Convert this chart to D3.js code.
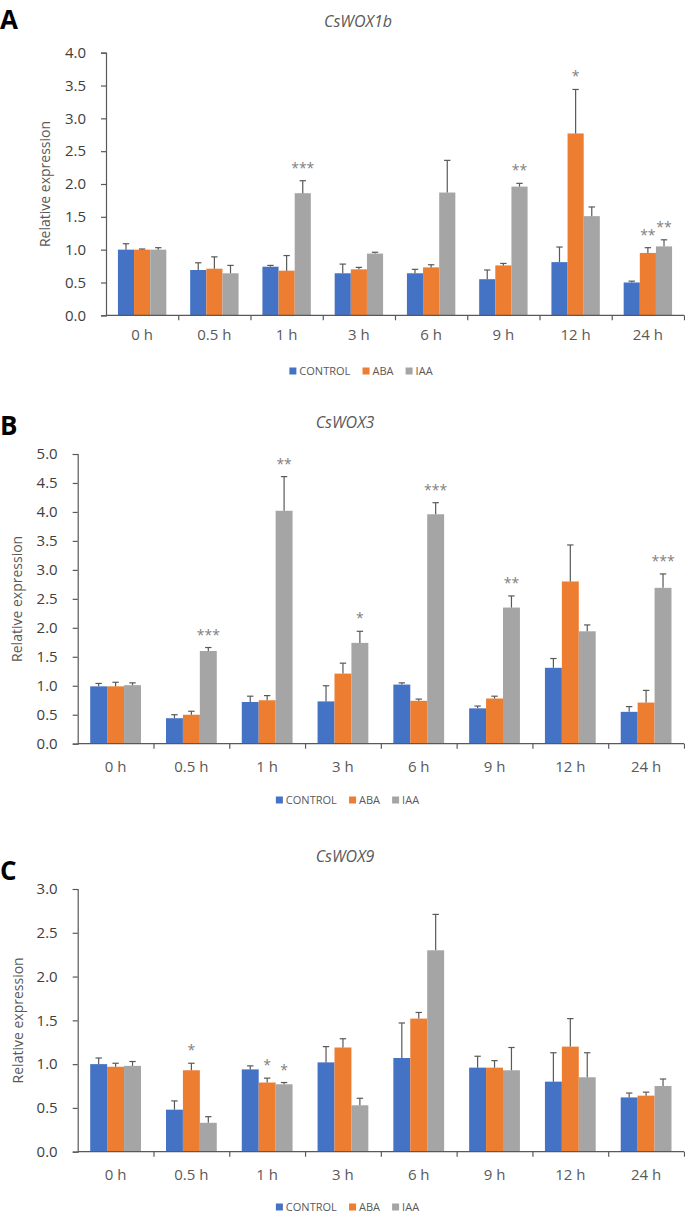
<!DOCTYPE html>
<html><head><meta charset="utf-8">
<script src="https://cdn.jsdelivr.net/npm/d3@7/dist/d3.min.js"></script>
<style>
body{margin:0;background:#fff;}
svg{display:block;font-family:"Open Sans",sans-serif;}
</style></head>
<body><svg id="c" width="685" height="1213"></svg>
<script>
const categories = ["0 h","0.5 h","1 h","3 h","6 h","9 h","12 h","24 h"];
const seriesNames = ["CONTROL","ABA","IAA"];
const seriesColors = ["#4472C4","#ED7D31","#A5A5A5"];

// CsWOX1b
const wox1bControl = [1.00,0.69,0.74,0.64,0.64,0.55,0.81,0.50];
const wox1bControlErr = [0.09,0.11,0.02,0.14,0.06,0.14,0.23,0.02];
const wox1bABA = [1.00,0.71,0.68,0.70,0.73,0.76,2.77,0.95];
const wox1bABAErr = [0.01,0.18,0.23,0.03,0.04,0.03,0.67,0.08];
const wox1bIAA = [1.00,0.64,1.86,0.94,1.87,1.96,1.51,1.05];
const wox1bIAAErr = [0.03,0.12,0.19,0.02,0.49,0.05,0.14,0.10];
const wox1bSig = [[2,2,"***"],[5,2,"**"],[6,1,"*"],[7,1,"**"],[7,2,"**"]];
const wox1bTicks = [0,0.5,1,1.5,2,2.5,3,3.5,4];

// CsWOX3
const wox3Control = [0.99,0.44,0.72,0.73,1.02,0.61,1.31,0.55];
const wox3ControlErr = [0.05,0.06,0.10,0.27,0.03,0.04,0.16,0.09];
const wox3ABA = [0.99,0.50,0.75,1.21,0.74,0.78,2.80,0.71];
const wox3ABAErr = [0.07,0.06,0.08,0.18,0.03,0.04,0.63,0.21];
const wox3IAA = [1.01,1.60,4.02,1.74,3.96,2.35,1.94,2.69];
const wox3IAAErr = [0.04,0.06,0.59,0.20,0.20,0.20,0.11,0.24];
const wox3Sig = [[1,2,"***"],[2,2,"**"],[3,2,"*"],[4,2,"***"],[5,2,"**"],[7,2,"***"]];
const wox3Ticks = [0,0.5,1,1.5,2,2.5,3,3.5,4,4.5,5];

// CsWOX9
const wox9Control = [1.00,0.48,0.94,1.02,1.07,0.96,0.80,0.62];
const wox9ControlErr = [0.07,0.10,0.04,0.18,0.40,0.13,0.33,0.05];
const wox9ABA = [0.97,0.93,0.79,1.19,1.52,0.96,1.20,0.64];
const wox9ABAErr = [0.04,0.08,0.05,0.10,0.07,0.08,0.32,0.04];
const wox9IAA = [0.98,0.33,0.77,0.53,2.30,0.93,0.85,0.75];
const wox9IAAErr = [0.05,0.07,0.02,0.08,0.41,0.26,0.28,0.08];
const wox9Sig = [[1,1,"*"],[2,1,"*"],[2,2,"*"]];
const wox9Ticks = [0,0.5,1,1.5,2,2.5,3];

const panels = [
  {letter:"A", gene:"CsWOX1b", vals:[wox1bControl,wox1bABA,wox1bIAA], errs:[wox1bControlErr,wox1bABAErr,wox1bIAAErr], sig:wox1bSig, ticks:wox1bTicks,
   L:106, R:684, T:52.7, B:315.3, letterY:29, titleX:358, titleY:27, ylabX:50, xlabY:340, legY:371, legX:361},
  {letter:"B", gene:"CsWOX3", vals:[wox3Control,wox3ABA,wox3IAA], errs:[wox3ControlErr,wox3ABAErr,wox3IAAErr], sig:wox3Sig, ticks:wox3Ticks,
   L:77.7, R:684, T:454, B:743.7, letterY:435, titleX:345, titleY:428, ylabX:22, xlabY:772, legY:800, legX:347.5},
  {letter:"C", gene:"CsWOX9", vals:[wox9Control,wox9ABA,wox9IAA], errs:[wox9ControlErr,wox9ABAErr,wox9IAAErr], sig:wox9Sig, ticks:wox9Ticks,
   L:77.7, R:684, T:889, B:1151.7, letterY:880, titleX:345, titleY:862, ylabX:23, xlabY:1180, legY:1207, legX:347.5}
];

const svg = d3.select("#c");
const axisColor = "#595959";

panels.forEach(p => {
  const g = svg.append("g");
  const yMax = p.ticks[p.ticks.length-1];
  const y = d3.scaleLinear().domain([0,yMax]).range([p.B,p.T]);
  const x0 = d3.scaleBand().domain(categories).range([p.L,p.R]).paddingInner(0.33).paddingOuter(0.165);
  const x1 = d3.scaleBand().domain(seriesNames).range([0,x0.bandwidth()]);
  const xb = d3.scaleLinear().domain([0,categories.length]).range([p.L,p.R]);

  seriesNames.forEach((s,si) => {
    g.append("g").selectAll("rect").data(p.vals[si]).join("rect")
      .attr("x",(d,i)=>x0(categories[i])+x1(s))
      .attr("y",d=>y(d))
      .attr("width",x1.bandwidth())
      .attr("height",d=>y(0)-y(d))
      .attr("fill",seriesColors[si]);
  });
  seriesNames.forEach((s,si) => {
    const eg = g.append("g").attr("stroke","#595959").attr("stroke-width",1.2);
    p.vals[si].forEach((v,i) => {
      const cx = x0(categories[i])+x1(s)+x1.bandwidth()/2;
      const top = y(v + p.errs[si][i]);
      eg.append("line").attr("x1",cx).attr("x2",cx).attr("y1",y(v)).attr("y2",top);
      eg.append("line").attr("x1",cx-3.2).attr("x2",cx+3.2).attr("y1",top).attr("y2",top);
    });
  });
  p.sig.forEach(([ci,si,txt]) => {
    const s = seriesNames[si];
    const cx = x0(categories[ci])+x1(s)+x1.bandwidth()/2;
    const top = y(p.vals[si][ci]+p.errs[si][ci]);
    g.append("text").attr("x",cx).attr("y",top-8).attr("text-anchor","middle")
      .attr("font-size",14).attr("fill","#7f7f7f").text(txt);
  });

  const ya = g.append("g").attr("transform",`translate(${p.L},0)`)
    .call(d3.axisLeft(y).tickValues(p.ticks).tickFormat(d3.format(".1f")).tickSize(5).tickPadding(15));
  ya.select(".domain").attr("stroke",axisColor).attr("stroke-width",1.2);
  ya.selectAll(".tick line").attr("stroke",axisColor).attr("stroke-width",1.2);
  ya.selectAll("text").attr("font-size",15).attr("fill","#404040").attr("font-family","'Open Sans',sans-serif");

  const xa = g.append("g").attr("transform",`translate(0,${p.B})`)
    .call(d3.axisBottom(xb).tickValues(d3.range(0,categories.length+1)).tickSize(5).tickFormat(""));
  xa.select(".domain").attr("stroke",axisColor).attr("stroke-width",1.2).attr("d",`M${p.L},0H${p.R}`);
  xa.selectAll(".tick line").attr("stroke",axisColor).attr("stroke-width",1.2);
  xa.selectAll(".tick").filter(d=>d===0).remove();

  g.append("g").selectAll("text").data(categories).join("text")
    .attr("x",d=>x0(d)+x0.bandwidth()/2).attr("y",p.xlabY).attr("text-anchor","middle")
    .attr("font-size",15).attr("fill","#595959").text(d=>d);

  g.append("text").attr("transform",`translate(${p.ylabX},${(p.T+p.B)/2}) rotate(-90)`)
    .attr("text-anchor","middle").attr("font-size",14).attr("fill","#595959").text("Relative expression");

  g.append("text").attr("x",p.titleX).attr("y",p.titleY).attr("text-anchor","middle")
    .attr("font-size",16).attr("font-style","italic").attr("fill","#595959").text(p.gene);

  g.append("text").attr("x",0).attr("y",p.letterY).attr("font-size",26).attr("font-weight","bold")
    .attr("fill","#000").attr("font-family","'Open Sans',sans-serif").text(p.letter);

  const lg = g.append("g");
  const items = lg.selectAll("g").data(seriesNames).join("g");
  items.append("rect").attr("width",7).attr("height",7).attr("y",-3.5).attr("fill",(d,i)=>seriesColors[i]);
  items.append("text").attr("x",10).attr("y",0).attr("dy","0.36em").attr("font-size",11)
    .attr("fill","#595959").text(d=>d);
  let off = 0; const widths=[];
  items.each(function(){ widths.push(this.getBBox().width); });
  items.attr("transform",(d,i)=>{ const t=`translate(${off},${p.legY})`; off += widths[i]+12; return t; });
  const total = off-12;
  lg.attr("transform",`translate(${p.legX-total/2},0)`);
});
</script></body></html>
